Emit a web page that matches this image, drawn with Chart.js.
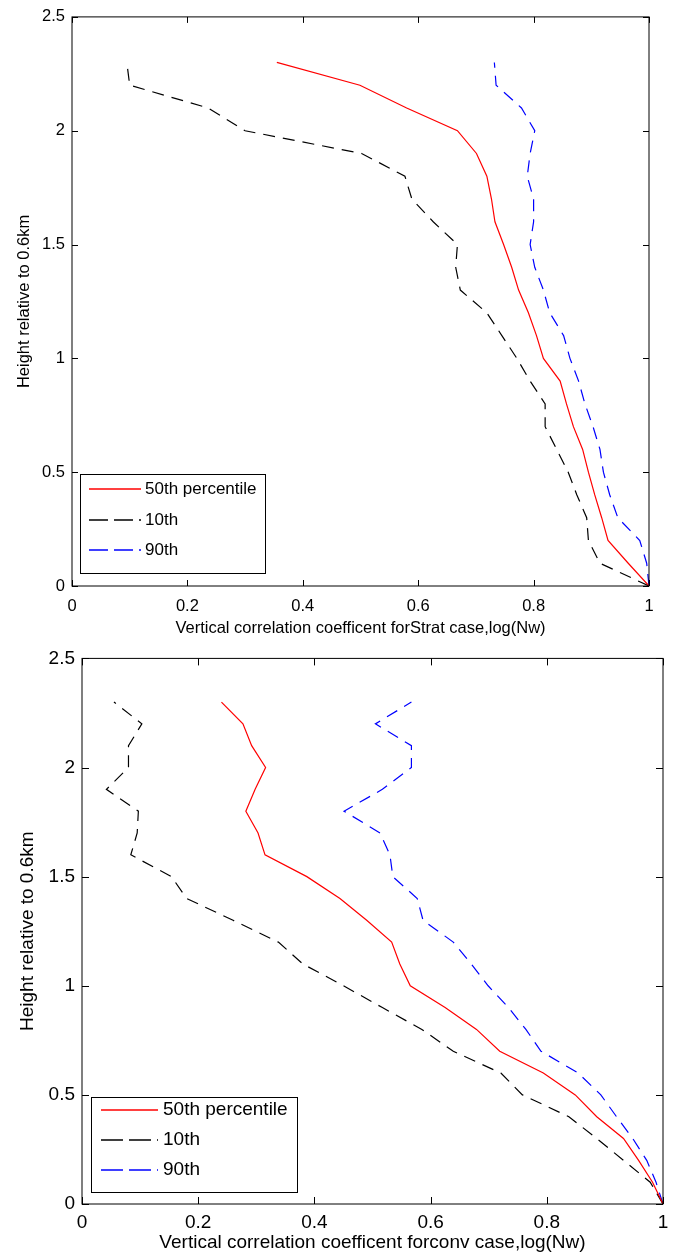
<!DOCTYPE html>
<html>
<head>
<meta charset="utf-8">
<script src="https://cdn.jsdelivr.net/npm/chart.js@4/dist/chart.umd.min.js"></script>
<style>
  body { margin: 0; background: #fff; }
  canvas { position: absolute; left: 0; }
  #strat { top: 0; }
  #conv { top: 640px; }
</style>
</head>
<body>
<canvas id="strat" width="678" height="640"></canvas>
<canvas id="conv" width="678" height="615"></canvas>
<script>
// heights (km above 0.6km), shared by all curves
const heights = [0, 0.1, 0.2, 0.3, 0.4, 0.5, 0.6, 0.7, 0.8, 0.9, 1.0, 1.1,
                 1.2, 1.3, 1.4, 1.5, 1.6, 1.7, 1.8, 1.9, 2.0, 2.1, 2.2, 2.3];

// stratiform case
const stratP50 = [1.0, 0.964, 0.929, 0.918, 0.906, 0.895, 0.885, 0.869, 0.857, 0.846, 0.817, 0.805,
                  0.791, 0.774, 0.762, 0.748, 0.733, 0.727, 0.719, 0.701, 0.668, 0.58, 0.499, 0.355];
const stratP10 = [1.0, 0.915, 0.895, 0.892, 0.875, 0.86, 0.84, 0.82, 0.82, 0.794, 0.771, 0.745,
                  0.719, 0.673, 0.665, 0.668, 0.626, 0.589, 0.577, 0.502, 0.30, 0.236, 0.10, 0.095];
const stratP90 = [1.0, 0.996, 0.984, 0.946, 0.932, 0.921, 0.915, 0.903, 0.889, 0.878, 0.863, 0.852,
                  0.828, 0.817, 0.802, 0.794, 0.80, 0.80, 0.789, 0.794, 0.802, 0.779, 0.735, 0.732];

// convective case
const convP50 = [1.0, 0.982, 0.958, 0.932, 0.886, 0.849, 0.794, 0.719, 0.679, 0.625, 0.565, 0.547,
                 0.533, 0.49, 0.444, 0.387, 0.315, 0.303, 0.282, 0.298, 0.316, 0.292, 0.277, 0.24];
const convP10 = [1.0, 0.978, 0.932, 0.886, 0.838, 0.758, 0.721, 0.639, 0.585, 0.517, 0.45, 0.38,
                 0.338, 0.26, 0.18, 0.154, 0.084, 0.095, 0.097, 0.042, 0.08, 0.08, 0.103, 0.055];
const convP90 = [1.0, 0.988, 0.972, 0.948, 0.92, 0.893, 0.854, 0.79, 0.764, 0.734, 0.699, 0.67,
                 0.639, 0.587, 0.577, 0.535, 0.53, 0.513, 0.451, 0.517, 0.567, 0.567, 0.505, 0.567];

const seriesLabels = ['50th percentile', '10th', '90th'];
const xTicks = [0, 0.2, 0.4, 0.6, 0.8, 1];
const yTicks = [0, 0.5, 1, 1.5, 2, 2.5];

const FONT = '"Liberation Sans", Arial, Helvetica, sans-serif';

const toPoints = (xs) => xs.map((x, i) => ({ x: x, y: heights[i] }));

// box around the axes, inward ticks on all four sides, legend inside
const framePlugin = {
    id: 'frame',
    afterDatasetsDraw(chart, args, opts) {
        const c = chart.ctx;
        const a = chart.chartArea;
        const xs = chart.scales.x, ys = chart.scales.y;
        const tl = opts.tickLen;
        c.save();
        c.strokeStyle = '#000';
        c.lineWidth = 1;
        c.setLineDash([]);
        c.strokeRect(a.left, a.top, a.right - a.left, a.bottom - a.top);
        c.beginPath();
        xTicks.forEach(v => {
            const px = Math.round(xs.getPixelForValue(v)) + 0.5;
            c.moveTo(px, a.bottom); c.lineTo(px, a.bottom - tl);
            c.moveTo(px, a.top); c.lineTo(px, a.top + tl);
        });
        yTicks.forEach(v => {
            const py = Math.round(ys.getPixelForValue(v)) + 0.5;
            c.moveTo(a.left, py); c.lineTo(a.left + tl, py);
            c.moveTo(a.right, py); c.lineTo(a.right - tl, py);
        });
        c.stroke();

        // legend
        const L = opts.legend;
        c.fillStyle = '#fff';
        c.fillRect(L.x, L.y, L.w, L.h);
        c.strokeRect(L.x + 0.5, L.y + 0.5, L.w, L.h);
        c.font = L.fontSize + 'px ' + FONT;
        c.textBaseline = 'middle';
        chart.data.datasets.forEach((ds, i) => {
            const ry = L.rows[i];
            c.strokeStyle = ds.borderColor;
            c.lineWidth = 1.5;
            c.setLineDash(ds.borderDash.length ? L.dash : []);
            c.beginPath();
            c.moveTo(L.lineX1, ry);
            c.lineTo(L.lineX2, ry);
            c.stroke();
            c.fillStyle = '#000';
            c.fillText(ds.label, L.textX, ry);
        });
        c.restore();
    }
};

function makeChart(id, p50, p10, p90, cfg) {
    const font = { family: FONT, size: cfg.fontSize };
    return new Chart(document.getElementById(id), {
        type: 'scatter',
        data: {
            datasets: [
                { label: seriesLabels[0], data: toPoints(p50), borderColor: 'rgb(255,0,0)', borderDash: [] },
                { label: seriesLabels[1], data: toPoints(p10), borderColor: 'rgb(0,0,0)', borderDash: [12, 8] },
                { label: seriesLabels[2], data: toPoints(p90), borderColor: 'rgb(0,0,255)', borderDash: [12, 8] }
            ].map(d => Object.assign(d, {
                showLine: true, pointRadius: 0, borderWidth: 1.2, tension: 0, fill: false
            }))
        },
        options: {
            responsive: false,
            animation: false,
            events: [],
            layout: { padding: { top: cfg.top, right: cfg.right, left: 0, bottom: 0 } },
            plugins: {
                legend: { display: false },
                tooltip: { enabled: false },
                frame: { tickLen: cfg.tickLen, legend: cfg.legend }
            },
            scales: {
                x: {
                    type: 'linear', min: 0, max: 1,
                    afterBuildTicks: s => { s.ticks = xTicks.map(v => ({ value: v })); },
                    afterFit: s => { s.height = cfg.xHeight; },
                    grid: { display: false, drawTicks: false },
                    border: { display: false },
                    ticks: { color: '#000', font: font, padding: cfg.xTickPad, maxRotation: 0,
                             callback: v => String(v) },
                    title: {
                        display: true, text: cfg.xTitle, color: '#000', font: font,
                        padding: { top: 0, bottom: cfg.xTitlePad }
                    }
                },
                y: {
                    type: 'linear', min: 0, max: 2.5,
                    afterBuildTicks: s => { s.ticks = yTicks.map(v => ({ value: v })); },
                    afterFit: s => { s.width = cfg.yWidth; },
                    grid: { display: false, drawTicks: false },
                    border: { display: false },
                    ticks: { color: '#000', font: font, padding: 7, callback: v => String(v) },
                    title: {
                        display: true, text: 'Height relative to 0.6km', color: '#000', font: font,
                        padding: { top: cfg.yTitlePad, bottom: 0 }
                    }
                }
            }
        },
        plugins: [framePlugin]
    });
}

makeChart('strat', stratP50, stratP10, stratP90, {
    fontSize: 16.5, top: 16, right: 29, yWidth: 72, xHeight: 54,
    xTickPad: 11, xTitlePad: 2, yTitlePad: 15, tickLen: 6,
    xTitle: 'Vertical correlation coefficent forStrat case,log(Nw)',
    legend: { x: 80, y: 474, w: 185, h: 99, rows: [489, 520, 550],
              lineX1: 89, lineX2: 141, textX: 145, fontSize: 17, dash: [19, 6] }
});

makeChart('conv', convP50, convP10, convP90, {
    fontSize: 19, top: 17, right: 15, yWidth: 82, xHeight: 51,
    xTickPad: 7.5, xTitlePad: 1, yTitlePad: 16, tickLen: 7,
    xTitle: 'Vertical correlation coefficent forconv case,log(Nw)',
    legend: { x: 91, y: 457, w: 206, h: 95, rows: [470, 500, 530],
              lineX1: 101, lineX2: 158, textX: 163, fontSize: 19, dash: [22, 6] }
});
</script>
</body>
</html>
